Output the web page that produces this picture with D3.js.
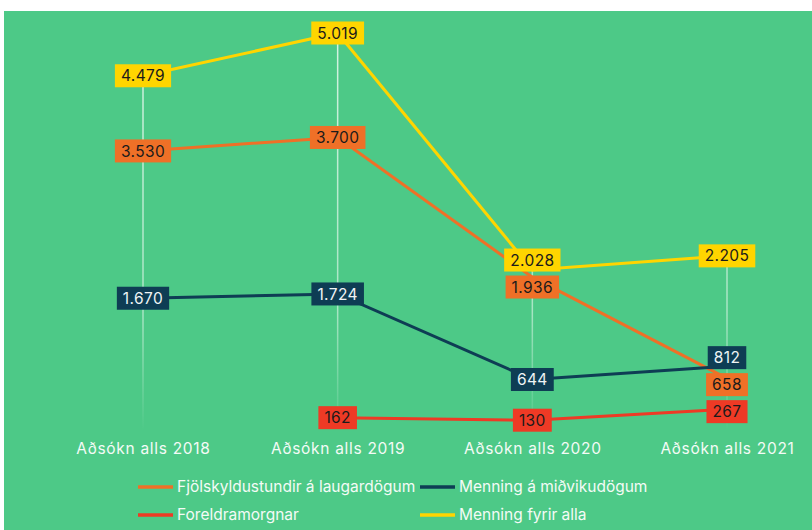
<!DOCTYPE html>
<html>
<head>
<meta charset="utf-8">
<script src="https://cdn.jsdelivr.net/npm/d3@7"></script>
<style>
    body { margin: 0; background: white; }
    svg { display: block; font-family: Inter, 'Noto Sans', sans-serif; }
</style>
</head>
<body>
<svg class="main" width="812" height="530"></svg>
<script>
const years = ['Aðsókn alls 2018', 'Aðsókn alls 2019', 'Aðsókn alls 2020', 'Aðsókn alls 2021'];
const seriesNames = ['Fjölskyldustundir á laugardögum', 'Menning á miðvikudögum', 'Foreldramorgnar', 'Menning fyrir alla'];
const fjolskyldustundir = [3530, 3700, 1936, 658];
const menningMidvikudogum = [1670, 1724, 644, 812];
const foreldramorgnar = [null, 162, 130, 267];
const menningFyrirAlla = [4479, 5019, 2028, 2205];

const colors = {
    bg: '#4dc987',
    grid: '#e4f7ec',
    orange: '#ef7027',
    navy: '#0e3d54',
    red: '#ee3a25',
    yellow: '#ffd500'
};

const series = [
    { name: seriesNames[0], values: fjolskyldustundir, color: colors.orange, text: '#1b1b1b' },
    { name: seriesNames[1], values: menningMidvikudogum, color: colors.navy, text: '#eef4f4' },
    { name: seriesNames[2], values: foreldramorgnar, color: colors.red, text: '#1b1b1b' },
    { name: seriesNames[3], values: menningFyrirAlla, color: colors.yellow, text: '#1b1b1b' }
];

const svg = d3.select('svg.main'),
    width = 812,
    height = 530,
    labelGap = 27;

const x = d3.scalePoint().domain(years).range([143, 727]);
const y = d3.scaleLinear().domain([0, d3.max(menningFyrirAlla)]).range([430.5, 33]);

const fmt = v => v >= 1000 ? d3.format(',')(v).replace(',', '.') : String(v);

svg.append('rect')
    .attr('x', 4)
    .attr('y', 11)
    .attr('width', width - 4)
    .attr('height', height - 11)
    .attr('fill', colors.bg);

// fading drop lines
const grad = svg.append('defs').append('linearGradient')
    .attr('id', 'gridFade')
    .attr('gradientUnits', 'userSpaceOnUse')
    .attr('x1', 0).attr('x2', 0)
    .attr('y1', y.range()[1]).attr('y2', y.range()[0]);

grad.append('stop').attr('offset', '0').attr('stop-color', colors.grid).attr('stop-opacity', 0.9);
grad.append('stop').attr('offset', '0.7').attr('stop-color', colors.grid).attr('stop-opacity', 0.6);
grad.append('stop').attr('offset', '1').attr('stop-color', colors.grid).attr('stop-opacity', 0);

svg.append('g')
    .selectAll('line')
    .data(years)
    .enter()
    .append('line')
    .attr('x1', d => x(d))
    .attr('x2', d => x(d))
    .attr('y1', (d, i) => y(d3.max(series, s => s.values[i])))
    .attr('y2', y(0))
    .attr('stroke', 'url(#gridFade)')
    .attr('stroke-width', 1.5);

// x axis labels
const axis = svg.append('g')
    .attr('transform', 'translate(0,' + y(0) + ')')
    .call(d3.axisBottom(x).tickSize(0).tickPadding(12));

axis.select('.domain').remove();
axis.selectAll('text')
    .attr('fill', '#f4fbf6')
    .attr('font-size', 15.5)
    .attr('font-family', 'Inter, sans-serif')
    .style('letter-spacing', '0.7px');

// lines
const line = d3.line()
    .defined(d => d.v != null)
    .x(d => x(d.year))
    .y(d => y(d.v));

svg.append('g')
    .selectAll('path')
    .data(series)
    .enter()
    .append('path')
    .attr('d', s => line(s.values.map((v, i) => ({ year: years[i], v: v }))))
    .attr('fill', 'none')
    .attr('stroke', s => s.color)
    .attr('stroke-width', 3);

// labels, pushed apart when they would overlap
const labels = [];
series.forEach(s => {
    s.values.forEach((v, i) => {
        if (v != null) {
            labels.push({ series: s, year: years[i], v: v, ly: y(v) });
        }
    });
});

years.forEach(year => {
    const col = labels.filter(l => l.year === year).sort((a, b) => a.ly - b.ly);
    for (let k = 0; k < 60; k++) {
        for (let j = 1; j < col.length; j++) {
            const gap = col[j].ly - col[j - 1].ly;
            if (gap < labelGap) {
                const push = (labelGap - gap) / 2;
                col[j - 1].ly -= push;
                col[j].ly += push;
            }
        }
    }
});

const tag = svg.append('g')
    .selectAll('g.tag')
    .data(labels)
    .enter()
    .append('g')
    .classed('tag', true)
    .attr('transform', d => 'translate(' + x(d.year) + ',' + d.ly + ')');

tag.append('text')
    .text(d => fmt(d.v))
    .attr('text-anchor', 'middle')
    .attr('dy', '0.36em')
    .attr('font-size', 15.5)
    .attr('fill', d => d.series.text)
    .style('letter-spacing', '0.4px');

tag.each(function () {
    const g = d3.select(this),
        box = g.select('text').node().getBBox(),
        padX = 6;

    g.insert('rect', 'text')
        .attr('x', box.x - padX)
        .attr('y', -11.5)
        .attr('width', box.width + padX * 2)
        .attr('height', 23)
        .attr('fill', d => d.series.color);
});

// legend
const legendPos = [
    { x: 138, y: 487 },
    { x: 420, y: 487 },
    { x: 138, y: 515 },
    { x: 420, y: 515 }
];

const legend = svg.append('g')
    .selectAll('g')
    .data(series)
    .enter()
    .append('g')
    .attr('transform', (d, i) => 'translate(' + legendPos[i].x + ',' + legendPos[i].y + ')');

legend.append('line')
    .attr('x1', 0)
    .attr('x2', 35)
    .attr('stroke', d => d.color)
    .attr('stroke-width', 3.5);

legend.append('text')
    .text(d => d.name)
    .attr('x', 39)
    .attr('dy', '0.35em')
    .attr('font-size', 15.5)
    .attr('fill', '#f4fbf6');
</script>
</body>
</html>
